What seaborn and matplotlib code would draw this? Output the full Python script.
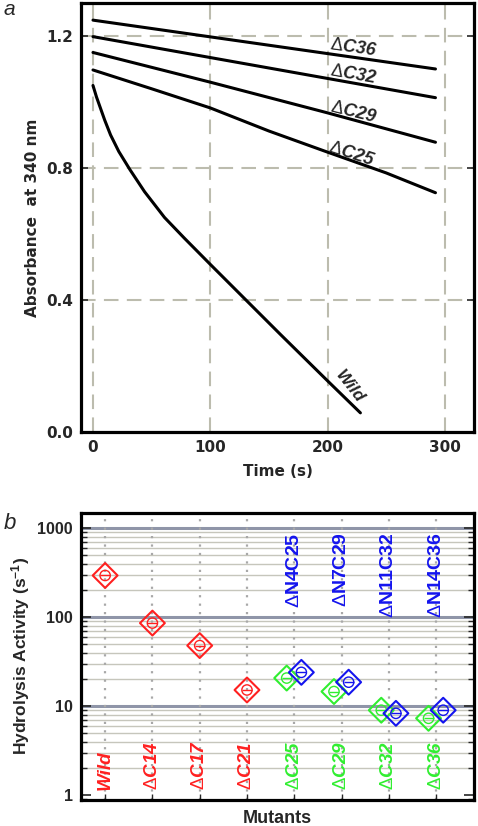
import numpy as np
import pandas as pd
import matplotlib
matplotlib.use("Agg")
import matplotlib.pyplot as plt
from matplotlib.ticker import LogLocator, NullFormatter, FixedLocator
import seaborn as sns

# ---------------- data: panel a (absorbance traces) ----------------
t_c36 = [0, 292]
a_c36 = [1.248, 1.100]
t_c32 = [0, 292]
a_c32 = [1.198, 1.013]
t_c29 = [0, 100, 200, 292]
a_c29 = [1.150, 1.060, 0.967, 0.878]
t_c25 = [0, 50, 100, 150, 200, 250, 292]
a_c25 = [1.097, 1.040, 0.982, 0.912, 0.848, 0.785, 0.725]
t_wild = [0, 3, 6, 10, 15, 22, 31.5, 44, 61, 78, 100, 129, 160, 200, 228]
a_wild = [1.050, 1.015, 0.985, 0.945, 0.900, 0.850, 0.795, 0.728, 0.650, 0.587, 0.508, 0.405, 0.295, 0.155, 0.058]
trace_labels = ["ΔC36", "ΔC32", "ΔC29", "ΔC25", "Wild"]

# ---------------- data: panel b (hydrolysis activity) ----------------
categories = ["Wild", "ΔC14", "ΔC17", "ΔC21", "ΔC25", "ΔC29", "ΔC32", "ΔC36"]
red_idx = [0, 1, 2, 3]
red_vals = [295, 86, 48, 15.2]
green_idx = [4, 5, 6, 7]
green_vals = [20.7, 14.6, 9.0, 7.3]
blue_idx = [4, 5, 6, 7]
blue_vals = [24.0, 18.6, 8.3, 9.0]
blue_labels = ["ΔN4C25", "ΔN7C29", "ΔN11C32", "ΔN14C36"]

sns.set_theme(style="white")
plt.rcParams["font.family"] = ["Liberation Sans", "DejaVu Sans"]
plt.rcParams["mathtext.fontset"] = "custom"
plt.rcParams["mathtext.rm"] = "Liberation Sans"
plt.rcParams["mathtext.it"] = "Liberation Sans:italic"
plt.rcParams["mathtext.bf"] = "Liberation Sans:bold:italic"
plt.rcParams["mathtext.sf"] = "Liberation Sans:bold"

fig = plt.figure(figsize=(4.78, 8.26), dpi=100)
ax1 = fig.add_axes([0.1695, 0.477, 0.822, 0.5194])
ax2 = fig.add_axes([0.1695, 0.0315, 0.822, 0.3478])

WIDE = ["DejaVu Sans"]

# ---------------- panel a ----------------
grid_c = "#bcbcae"
for v in [0, 100, 200, 300]:
    ax1.axvline(v, color=grid_c, lw=1.5, ls=(0, (7, 4)), zorder=0)
for v in [0.4, 0.8, 1.2]:
    ax1.axhline(v, color=grid_c, lw=1.5, ls=(0, (7, 4)), zorder=0)

for tt, aa in [(t_c36, a_c36), (t_c32, a_c32), (t_c29, a_c29), (t_c25, a_c25), (t_wild, a_wild)]:
    df = pd.DataFrame({"t": tt, "a": aa})
    sns.lineplot(data=df, x="t", y="a", ax=ax1, color="black", lw=2.2, sort=False, zorder=3)

lab_pos = [(222, 1.164, -8), (222, 1.082, -10), (222, 0.967, -14), (220, 0.842, -18), (219, 0.136, -52)]
for lab, (x, y, r) in zip(trace_labels, lab_pos):
    if lab.startswith("Δ"):
        s = r"$\Delta\mathbf{" + lab[1:] + "}$"
        ax1.text(x, y, s, rotation=r, ha="center", va="center", fontsize=13, zorder=4)
    else:
        ax1.text(x, y, lab, rotation=r, ha="center", va="center", fontsize=12.5,
                 fontweight="bold", fontstyle="italic", zorder=4)

ax1.set_xlim(-10.2, 324.8)
ax1.set_ylim(0, 1.3)
ax1.set_xticks([0, 100, 200, 300])
ax1.set_yticks([0.0, 0.4, 0.8, 1.2])
ax1.set_xticklabels(["0", "100", "200", "300"])
ax1.set_yticklabels(["0.0", "0.4", "0.8", "1.2"])
ax1.set_xlabel("Time (s)", fontsize=11, fontweight="bold", family=WIDE, labelpad=6)
ax1.set_ylabel("Absorbance  at 340 nm", fontsize=11, fontweight="bold", family=WIDE, labelpad=4)
for sp in ax1.spines.values():
    sp.set_linewidth(2.3)
    sp.set_color("black")
ax1.tick_params(axis="y", labelsize=11, length=5, width=1.2, direction="in", left=True, right=True, pad=6)
ax1.tick_params(axis="x", labelsize=11, length=0, pad=6)
for lbl in ax1.get_xticklabels() + ax1.get_yticklabels():
    lbl.set_fontweight("bold")
    lbl.set_family(WIDE)

# ---------------- panel b ----------------
ax2.set_yscale("log")
ax2.set_xlim(-0.51, 7.8)
ax2.set_ylim(0.88, 1500)
minor_c = "#c6c6bc"
major_c = "#8f95a8"
for dec in [1, 10, 100]:
    for m in range(2, 10):
        ax2.axhline(dec * m, color=minor_c, lw=1.0, zorder=0)
for v in [10, 100, 1000]:
    ax2.axhline(v, color=major_c, lw=2.2, zorder=0)
for i in range(len(categories)):
    ax2.axvline(i, color="#a8a8a8", lw=1.6, ls=(0, (1, 2.8)), zorder=0)

def draw_points(idx, vals, color, offset):
    df = pd.DataFrame({"x": np.array(idx) + offset, "y": vals})
    sns.scatterplot(data=df, x="x", y="y", ax=ax2, marker="D", s=160,
                    facecolors="none", edgecolor=color, linewidth=1.5, zorder=3)
    sns.scatterplot(data=df, x="x", y="y", ax=ax2, marker="o", s=55,
                    facecolors="none", edgecolor=color, linewidth=1.0, zorder=3)
    sns.scatterplot(data=df, x="x", y="y", ax=ax2, marker="_", s=60,
                    color=color, linewidth=1.0, zorder=3)

draw_points(red_idx, red_vals, "#ff2020", 0.0)
draw_points(green_idx, green_vals, "#30ee30", -0.16)
draw_points(blue_idx, blue_vals, "#1414ee", 0.15)

label_cols = ["#ff2020"] * 4 + ["#30ee30"] * 4
for i, (lab, c) in enumerate(zip(categories, label_cols)):
    if lab.startswith("Δ"):
        s = r"$\Delta\mathbf{" + lab[1:] + "}$"
        ax2.text(i, 1.13, s, rotation=90, ha="center", va="bottom", fontsize=13.5,
                 color=c, zorder=4)
    else:
        ax2.text(i, 1.13, lab, rotation=90, ha="center", va="bottom", fontsize=13.5,
                 fontweight="bold", fontstyle="italic", color=c, zorder=4)
for i, lab in zip(blue_idx, blue_labels):
    s = r"$\Delta\mathsf{" + lab[1:] + "}$"
    ax2.text(i, 900, s, rotation=90, ha="center", va="top", fontsize=14,
             color="#1414ee", zorder=4)

ax2.set_xticks(range(len(categories)))
ax2.set_xticklabels([])
ax2.yaxis.set_major_locator(FixedLocator([1, 10, 100, 1000]))
ax2.set_yticklabels(["1", "10", "100", "1000"])
ax2.yaxis.set_minor_locator(LogLocator(base=10, subs=np.arange(2, 10), numticks=20))
ax2.yaxis.set_minor_formatter(NullFormatter())
ax2.tick_params(axis="y", which="major", labelsize=11.5, length=7, width=1.2, direction="in",
                left=True, right=True, pad=6)
ax2.tick_params(axis="y", which="minor", length=4, width=1, direction="in", left=True, right=True)
ax2.tick_params(axis="x", which="major", length=4, width=1, direction="in", bottom=True)
for lbl in ax2.get_yticklabels():
    lbl.set_fontweight("bold")
ax2.set_xlabel("Mutants", fontsize=13, fontweight="bold", labelpad=4)
ax2.set_ylabel(r"Hydrolysis Activity (s$^{\mathsf{-1}}$)", fontsize=12.5, fontweight="bold", labelpad=4)
for sp in ax2.spines.values():
    sp.set_linewidth(2.3)
    sp.set_color("black")

fig.text(0.008, 0.988, "a", fontsize=15, fontstyle="italic", va="center", ha="left")
fig.text(0.008, 0.366, "b", fontsize=16, fontstyle="italic", va="center", ha="left")

fig.savefig("out.png", dpi=100)
